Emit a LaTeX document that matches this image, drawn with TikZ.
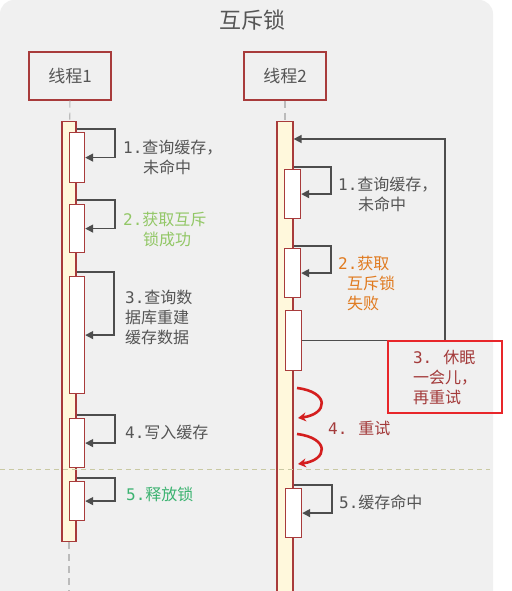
\documentclass[tikz,border=0pt]{standalone}
\usepackage{fontspec}
\setmainfont{Noto Sans CJK SC}
\newfontfamily\numfont{DejaVu Sans Mono}
\usepackage{tikz}
\usetikzlibrary{arrows.meta,positioning}

\definecolor{panelbg}{HTML}{F0F0F0}
\definecolor{boxred}{HTML}{A83B3B}
\definecolor{barfill}{HTML}{FFF8DC}
\definecolor{textgray}{HTML}{555555}
\definecolor{arrowgray}{HTML}{4D4D4D}
\definecolor{okgreen}{HTML}{92C766}
\definecolor{relgreen}{HTML}{3CB371}
\definecolor{failorange}{HTML}{E07A1F}
\definecolor{notered}{HTML}{E8262A}
\definecolor{notetext}{HTML}{A33A3A}
\definecolor{retryred}{HTML}{D41E1E}
\definecolor{phasecol}{HTML}{C9C9A3}
\definecolor{lifegray}{HTML}{BBBBBB}

\newcommand{\stepno}[1]{{\numfont #1.}}

\begin{document}
\begin{tikzpicture}[x=1pt, y=-1pt, >={Triangle[length=8pt,width=8pt]},
    head/.style={rectangle, draw=boxred, line width=1.2pt, minimum width=82pt, minimum height=48pt, font=\fontsize{17}{20}\selectfont, text=textgray},
    bar/.style={rectangle, draw=boxred, fill=barfill, line width=1.2pt, minimum width=14pt, inner sep=0pt, anchor=north},
    act/.style={rectangle, draw=boxred, fill=white, line width=1.2pt, minimum width=15pt, inner sep=0pt, anchor=north west},
    selfarrow/.style={->, line width=1.5pt, draw=arrowgray},
    life/.style={dash pattern=on 7pt off 5pt, draw=lifegray, line width=1.2pt},
    msg/.style={inner sep=0pt, anchor=north west, align=left, font=\fontsize{16}{20}\selectfont, text=textgray},
    note/.style={rectangle, draw=notered, line width=2pt, minimum width=114pt, minimum height=72pt, align=left, font=\fontsize{16}{20}\selectfont, text=notetext},
    retry/.style={-{Stealth[length=8pt,width=9pt]}, line width=2.6pt, draw=retryred}]

    \useasboundingbox (0,0) rectangle (511,591);
    \clip (0,0) rectangle (511,591);
    \fill[white] (0,0) rectangle (511,591);
    \fill[panelbg, rounded corners=14pt] (0,0) rectangle (493,620);

    \node[font=\fontsize{22}{24}\selectfont, text=textgray] (title) at (252,20) {互斥锁};

    % the two threads
    \node[head] (t1) at (70,76) {线程1};
    \node[head] (t2) at (285,76) {线程2};
    \node[bar, minimum height=420pt] (bar1) at (69,121) {};
    \node[bar, minimum width=16pt, minimum height=480pt] (bar2) at (285,121) {};
    \coordinate (end1) at (69,600);
    \draw[life] (t1) -- (bar1);
    \draw[life] (t2) -- (bar2);
    \draw[life] (bar1.south) -- (end1);

    % thread 1
    \node[act, minimum height=50pt] (a1) at (69,132) {};
    \node[act, minimum height=48pt] (a2) at (69,204) {};
    \node[act, minimum height=117pt] (a3) at (69,276) {};
    \node[act, minimum height=49pt] (a4) at (69,418) {};
    \node[act, minimum height=39pt] (a5) at (69,481) {};

    \draw[selfarrow] ([yshift=3pt]a1.north -| bar1.east) -| ([xshift=30pt]a1.east) -- (a1.east);
    \draw[selfarrow] ([yshift=4pt]a2.north -| bar1.east) -| ([xshift=30pt]a2.east) -- (a2.east);
    \draw[selfarrow] ([yshift=4pt]a3.north -| bar1.east) -| ([xshift=29pt]a3.east) -- (a3.east);
    \draw[selfarrow] ([yshift=3pt]a4.north -| bar1.east) -| ([xshift=30pt]a4.east) -- (a4.east);
    \draw[selfarrow] ([yshift=3pt]a5.north -| bar1.east) -| ([xshift=30pt]a5.east) -- (a5.east);

    \node[msg] (m1) at (123,140) {\stepno{1}查询缓存，\\\hspace*{20pt}未命中};
    \node[msg, text=okgreen] (m2) at (123,212) {\stepno{2}获取互斥\\\hspace*{20pt}锁成功};
    \node[msg] (m3) at (125,290) {\stepno{3}查询数\\据库重建\\缓存数据};
    \node[msg] (m4) at (125,425) {\stepno{4}写入缓存};
    \node[msg, text=relgreen] (m5) at (126,487) {\stepno{5}释放锁};

    % thread 2
    \node[act, minimum width=16pt, minimum height=49pt] (b1) at (284,169) {};
    \node[act, minimum width=16pt, minimum height=49pt] (b2) at (284,248) {};
    \node[act, minimum width=16pt, minimum height=60pt] (b3) at (285,310) {};
    \node[act, minimum width=16pt, minimum height=49pt] (b5) at (285,488) {};

    \draw[selfarrow] ([yshift=2pt]b1.north -| bar2.east) -| ([xshift=30pt]b1.east) -- (b1.east);
    \draw[selfarrow] ([yshift=2pt]b2.north -| bar2.east) -| ([xshift=30pt]b2.east) -- (b2.east);
    \draw[selfarrow] ([yshift=3pt]b5.north -| bar2.east) -| ([xshift=30pt]b5.east) -- (b5.east);
    \coordinate (back) at (445,139);
    \draw[selfarrow] (b3.east) -| (back) -- (back -| bar2.east);

    \node[msg] (n1) at (338,177) {\stepno{1}查询缓存，\\\hspace*{20pt}未命中};
    \node[msg, text=failorange] (n2) at (338,256) {\stepno{2}获取\\\hspace*{9pt}互斥锁\\\hspace*{9pt}失败};
    \node[note] (sleep) at (445,377) {\stepno{3}\hspace{11pt}休眠\\一会儿，\\再重试};

    \coordinate (r1s) at (297,388);
    \coordinate (r1e) at (298,418);
    \coordinate (r2s) at (297,434);
    \coordinate (r2e) at (298,464);
    \draw[retry] (r1s) .. controls (330,392) and (328,414) .. (r1e);
    \draw[retry] (r2s) .. controls (330,438) and (328,460) .. (r2e);
    \node[msg, text=notetext] (n4) at (328,421) {\stepno{4}\hspace{11pt}重试};
    \node[msg] (n5) at (339,495) {\stepno{5}缓存命中};

    % phase separator
    \coordinate (ph1) at (0,469);
    \coordinate (ph2) at (490,469);
    \draw[dash pattern=on 5pt off 4pt, draw=phasecol, line width=1pt] (ph1) -- (ph2);
\end{tikzpicture}
\end{document}
